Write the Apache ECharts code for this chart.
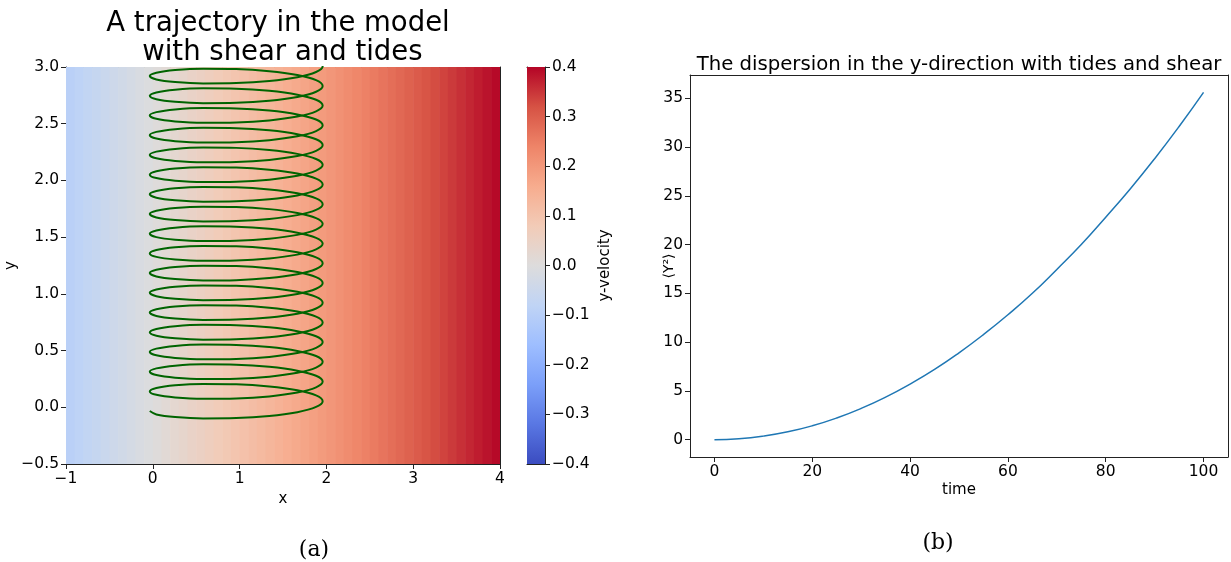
<!DOCTYPE html>
<html>
<head>
<meta charset="utf-8">
<script src="https://cdn.jsdelivr.net/npm/echarts@6/dist/echarts.min.js"></script>
<style>html,body{margin:0;padding:0;background:#fff;}#c{width:1231px;height:562px;}</style>
</head>
<body>
<div id="c"></div>
<script>
// ---------- data ----------
// left panel: background field (vertical bands), colour = y-velocity
const bandEdges = [-1.0,-0.9,-0.8,-0.7,-0.6,-0.5,-0.4,-0.3,-0.2,-0.1,0.0,0.1,0.2,0.3,0.4,0.5,0.6,0.7,0.8,0.9,1.0,1.1,1.2,1.3,1.4,1.5,1.6,1.7,1.8,1.9,2.0,2.1,2.2,2.3,2.4,2.5,2.6,2.7,2.8,2.9,3.0,3.1,3.2,3.3,3.4,3.5,3.6,3.7,3.8,3.9,4.0];
const bandV = [-0.095,-0.085,-0.075,-0.065,-0.055,-0.045,-0.035,-0.025,-0.015,-0.005,0.005,0.015,0.025,0.035,0.045,0.055,0.065,0.075,0.085,0.095,0.105,0.115,0.125,0.135,0.145,0.155,0.165,0.175,0.185,0.195,0.205,0.215,0.225,0.235,0.245,0.255,0.265,0.275,0.285,0.295,0.305,0.315,0.325,0.335,0.345,0.355,0.365,0.375,0.385,0.395];
// left panel: trajectory; one loop's shape (x, y offset from the loop's leftmost point) and the leftmost y of each loop
const loopX  = [-0.035, 0.041, 0.257, 0.580, 0.961, 1.342, 1.665, 1.881, 1.957, 1.881, 1.665, 1.342, 0.961, 0.580, 0.257, 0.041];
const loopDY = [0, -0.030, -0.053, -0.065, -0.062, -0.044, -0.010, 0.036, 0.087, 0.138, 0.183, 0.217, 0.236, 0.239, 0.227, 0.203];
const loopBaseY = [-0.033,0.140,0.314,0.488,0.661,0.835,1.009,1.183,1.356,1.530,1.704,1.878,2.051,2.225,2.399,2.573,2.746,2.920];
// axes
const xRangeA = [-1, 4];
const yRangeA = [-0.5, 3.0];
const cbRange = [-0.4, 0.4];
const cbTicks = [-0.4,-0.3,-0.2,-0.1,0.0,0.1,0.2,0.3,0.4];
const coolwarm = ['#3b4cc0','#5977e3','#7b9ff9','#9ebeff','#c0d4f5','#dddcdc','#f2cbb7','#f7ac8e','#ee8468','#d65244','#b40426'];
// right panel: dispersion <Y^2> vs time
const dispTime = [0,5,10,15,20,25,30,35,40,45,50,55,60,65,70,75,80,85,90,95,100];
const dispY    = [0,0.09,0.36,0.80,1.42,2.22,3.20,4.36,5.70,7.20,8.90,10.77,12.80,15.00,17.45,20.00,22.80,25.70,28.80,32.10,35.60];
const timeTicks = [0,20,40,60,80,100];
const dispTicks = [0,5,10,15,20,25,30,35];
const xRangeB = [-5, 105];
const yRangeB = [-1.78, 37.38];

// ---------- build ----------
const FONT = 'DejaVu Sans';
const AX = '#222';
const bands = bandV.map((v, i) => [bandEdges[i], bandEdges[i + 1], v]);
const traj = [];
loopBaseY.forEach(b => { loopX.forEach((x, j) => traj.push([x, b + loopDY[j]])); });
const dispData = dispTime.map((t, i) => [t, dispY[i]]);
const minus = v => (v < 0 ? '\u2212' : '') + Math.abs(v);
const minus1 = v => (v < -1e-9 ? '\u2212' : '') + Math.abs(v).toFixed(1);

function frameAxis(extra) {
  return Object.assign({
    type: 'value', axisLine: { show: true, onZero: false, lineStyle: { color: AX, width: 1 } },
    axisTick: { show: false }, axisLabel: { show: false }, splitLine: { show: false }
  }, extra);
}
function mainAxis(extra) {
  return Object.assign({
    type: 'value',
    axisLine: { show: true, onZero: false, lineStyle: { color: AX, width: 1 } },
    axisTick: { show: true, inside: false, length: 5, lineStyle: { color: AX } },
    axisLabel: { color: '#000', fontSize: 15.5, fontFamily: FONT, margin: 7 },
    splitLine: { show: false },
    nameMoveOverlap: false,
    nameTextStyle: { color: '#000', fontSize: 15, fontFamily: FONT }
  }, extra);
}
const lbl = (extra) => Object.assign({ color: '#000', fontSize: 15.5, fontFamily: FONT, margin: 7 }, extra);

const chart = echarts.init(document.getElementById('c'), null, { renderer: 'canvas' });
chart.setOption({
  animation: false,
  backgroundColor: '#fff',
  textStyle: { fontFamily: FONT },
  title: [
    { text: 'A trajectory in the model\n\u00A0with shear and tides', left: 273, top: 4, textAlign: 'center',
      textStyle: { fontSize: 27.5, fontWeight: 'normal', color: '#000', fontFamily: FONT, lineHeight: 29 } },
    { text: 'The dispersion in the y-direction with tides and shear', left: 954, top: 50, textAlign: 'center',
      textStyle: { fontSize: 19.7, fontWeight: 'normal', color: '#000', fontFamily: FONT } },
    { text: '(a)', left: 309, top: 534, textAlign: 'center',
      textStyle: { fontSize: 22, fontWeight: 'normal', color: '#000', fontFamily: 'DejaVu Serif' } },
    { text: '(b)', left: 933, top: 527, textAlign: 'center',
      textStyle: { fontSize: 22, fontWeight: 'normal', color: '#000', fontFamily: 'DejaVu Serif' } }
  ],
  grid: [
    { left: 66, top: 67, width: 434, height: 397 },
    { left: 527, top: 67, width: 18, height: 397 },
    { left: 690, top: 75, width: 538, height: 382 }
  ],
  xAxis: [
    mainAxis({ gridIndex: 0, position: 'bottom', min: xRangeA[0], max: xRangeA[1], interval: 1,
      axisLabel: lbl({ formatter: minus }),
      name: 'x', nameLocation: 'middle', nameGap: 28 }),
    frameAxis({ gridIndex: 0, position: 'top', min: xRangeA[0], max: xRangeA[1] }),
    frameAxis({ gridIndex: 1, position: 'bottom', min: 0, max: 1 }),
    frameAxis({ gridIndex: 1, position: 'top', min: 0, max: 1 }),
    mainAxis({ gridIndex: 2, position: 'bottom', min: xRangeB[0], max: xRangeB[1],
      axisTick: { show: true, length: 5, lineStyle: { color: AX }, customValues: timeTicks },
      axisLabel: lbl({ customValues: timeTicks }),
      name: 'time', nameLocation: 'middle', nameGap: 26 }),
    frameAxis({ gridIndex: 2, position: 'top', min: xRangeB[0], max: xRangeB[1] })
  ],
  yAxis: [
    mainAxis({ gridIndex: 0, position: 'left', min: yRangeA[0], max: yRangeA[1], interval: 0.5,
      axisLabel: lbl({ formatter: minus1 }),
      name: 'y', nameLocation: 'middle', nameGap: 47 }),
    frameAxis({ gridIndex: 0, position: 'right', min: yRangeA[0], max: yRangeA[1] }),
    mainAxis({ gridIndex: 1, position: 'right', min: cbRange[0], max: cbRange[1],
      axisTick: { show: true, length: 5, lineStyle: { color: AX }, customValues: cbTicks },
      axisLabel: lbl({ customValues: cbTicks, formatter: minus1 }),
      name: 'y-velocity', nameLocation: 'middle', nameGap: 53 }),
    frameAxis({ gridIndex: 1, position: 'left', min: cbRange[0], max: cbRange[1] }),
    mainAxis({ gridIndex: 2, position: 'left', min: yRangeB[0], max: yRangeB[1],
      axisTick: { show: true, length: 5, lineStyle: { color: AX }, customValues: dispTicks },
      axisLabel: lbl({ customValues: dispTicks }),
      name: '\u27E8Y\u00B2\u27E9', nameLocation: 'middle', nameGap: 14,
      nameTextStyle: { color: '#000', fontSize: 14, fontFamily: FONT } }),
    frameAxis({ gridIndex: 2, position: 'right', min: yRangeB[0], max: yRangeB[1] })
  ],
  visualMap: {
    show: false, type: 'continuous', seriesIndex: 0, dimension: 2,
    min: cbRange[0], max: cbRange[1], inRange: { color: coolwarm }
  },
  series: [
    {
      type: 'custom', xAxisIndex: 0, yAxisIndex: 0, data: bands, encode: { x: [0, 1] }, clip: true, z: 1,
      renderItem: function (params, api) {
        const p0 = api.coord([api.value(0), yRangeA[1]]);
        const p1 = api.coord([api.value(1), yRangeA[0]]);
        return { type: 'rect', shape: { x: p0[0], y: p0[1], width: p1[0] - p0[0] + 0.6, height: p1[1] - p0[1] },
          style: { fill: api.visual('color') } };
      }
    },
    {
      type: 'line', xAxisIndex: 0, yAxisIndex: 0, data: traj, smooth: 0.35, symbol: 'none', clip: true, z: 3,
      lineStyle: { color: '#006400', width: 2 }
    },
    {
      type: 'custom', xAxisIndex: 2, yAxisIndex: 2, data: [[0, 1]], z: 1,
      renderItem: function (params, api) {
        const p0 = api.coord([0, cbRange[1]]);
        const p1 = api.coord([1, cbRange[0]]);
        const stops = coolwarm.map((c, i) => ({ offset: i / (coolwarm.length - 1), color: c }));
        return { type: 'rect', shape: { x: p0[0], y: p0[1], width: p1[0] - p0[0], height: p1[1] - p0[1] },
          style: { fill: new echarts.graphic.LinearGradient(0, 1, 0, 0, stops) } };
      }
    },
    {
      type: 'line', xAxisIndex: 4, yAxisIndex: 4, data: dispData, smooth: true, symbol: 'none', z: 3,
      lineStyle: { color: '#1f77b4', width: 1.5 }
    }
  ]
});
</script>
</body>
</html>
